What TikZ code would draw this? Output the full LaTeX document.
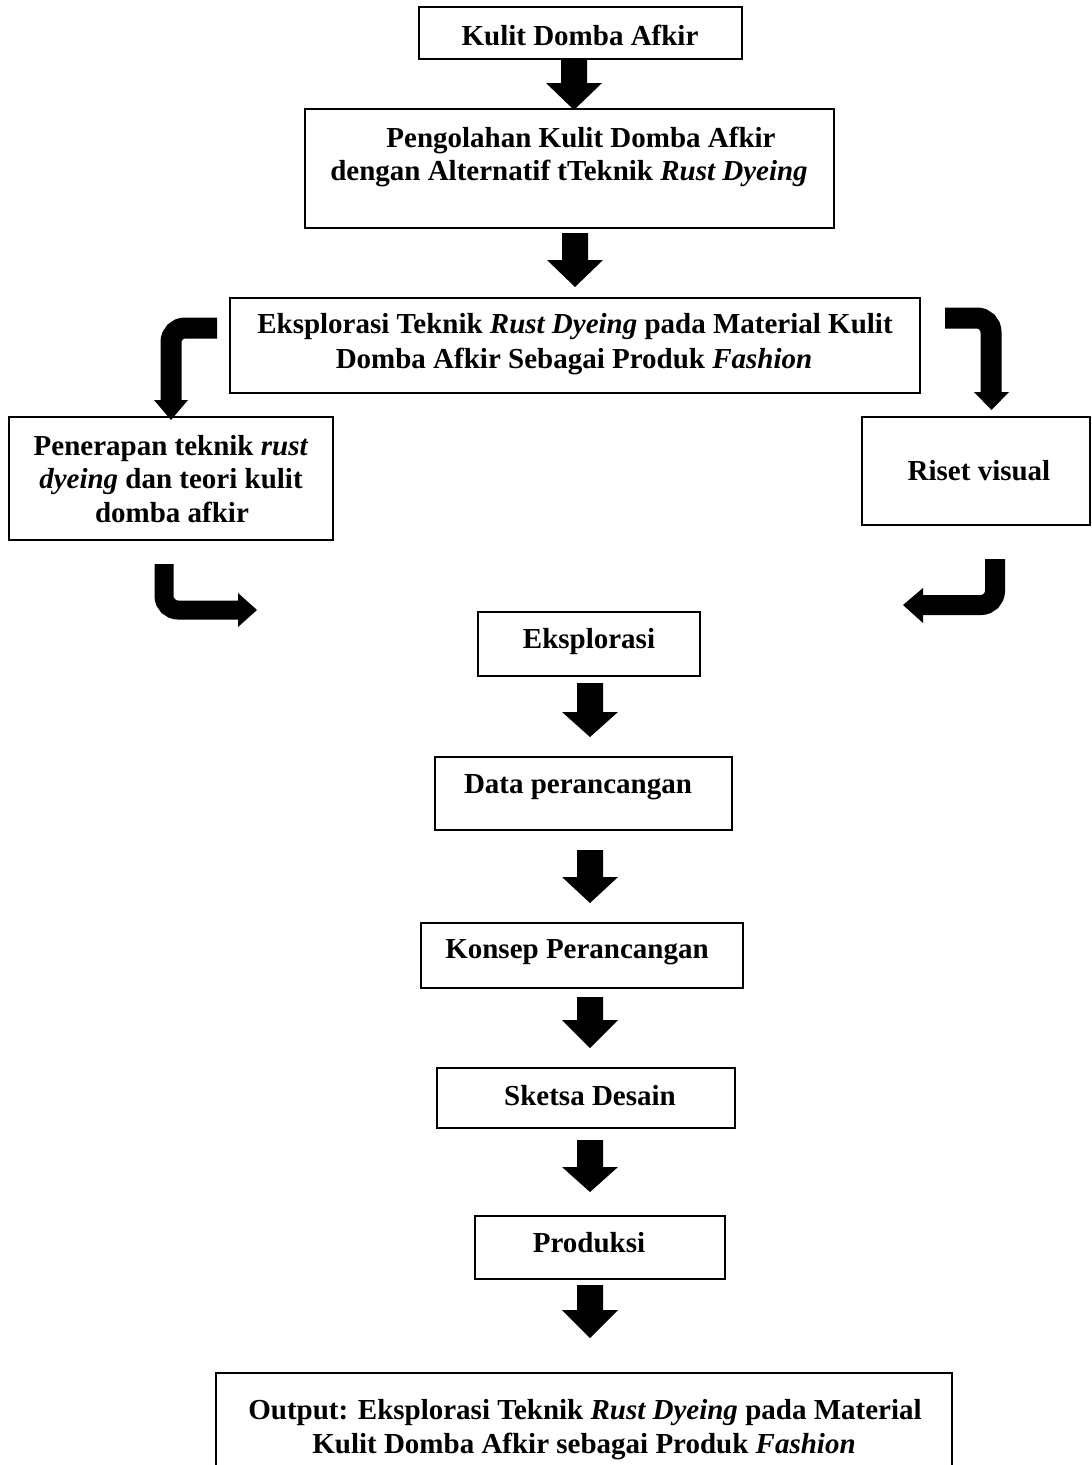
\documentclass[tikz,border=0pt]{standalone}
\usepackage{fontspec}
\setmainfont{Liberation Serif}
\usetikzlibrary{fit}
\tikzset{
  box/.style={draw, line width=2pt, inner sep=0pt},
  txt/.style={font=\fontsize{29}{33}\selectfont\bfseries, inner sep=0pt, anchor=base},
  bent/.style={draw=black, line width=21pt, rounded corners=14pt, line cap=butt}
}
\newcommand\blockdown[4]{% x, top, head base, tip
  \fill[black] (#1-13,#2) -- (#1+13,#2) -- (#1+13,#3) -- (#1+28,#3) -- (#1,#4) -- (#1-28,#3) -- (#1-13,#3) -- cycle;}
\begin{document}
\begin{tikzpicture}[x=1pt,y=-1pt]
\useasboundingbox (0,0) rectangle (1092,1465);
\clip (0,0) rectangle (1092,1465);
\fill[white] (0,0) rectangle (1092,1465);

% boxes
\node[box, fit={(419,7) (742,59)}] (b1) {};
\node[box, fit={(305,109) (834,228)}] (b2) {};
\node[box, fit={(230,298) (920,393)}] (b3) {};
\node[box, fit={(9,417) (333,540)}] (b4) {};
\node[box, fit={(862,417) (1090,525)}] (b5) {};
\node[box, fit={(478,612) (700,676)}] (b6) {};
\node[box, fit={(435,757) (732,830)}] (b7) {};
\node[box, fit={(421,923) (743,988)}] (b8) {};
\node[box, fit={(437,1068) (735,1128)}] (b9) {};
\node[box, fit={(475,1216) (725,1279)}] (b10) {};
\node[box, fit={(216,1373) (952,1500)}] (b11) {};

% texts
\node[txt] (t1) at (580,45) {Kulit Domba Afkir};
\node[txt] (t2a) at (581,147) {Pengolahan Kulit Domba Afkir};
\node[txt] (t2b) at (569,180) {dengan Alternatif tTeknik \textit{Rust Dyeing}};
\node[txt] (t3a) at (575,333) {Eksplorasi Teknik \textit{Rust Dyeing} pada Material Kulit};
\node[txt] (t3b) at (574,368) {Domba Afkir Sebagai Produk \textit{Fashion}};
\node[txt] (t4a) at (171,455) {Penerapan teknik \textit{rust}};
\node[txt] (t4b) at (171,488) {\textit{dyeing} dan teori kulit};
\node[txt] (t4c) at (172,522) {domba afkir};
\node[txt] (t5) at (979,480) {Riset visual};
\node[txt] (t6) at (589,648) {Eksplorasi};
\node[txt] (t7) at (578,793) {Data perancangan};
\node[txt] (t8) at (577,958) {Konsep Perancangan};
\node[txt] (t9) at (590,1105) {Sketsa Desain};
\node[txt] (t10) at (589,1252) {Produksi};
\node[txt] (t11a) at (585,1419) {Output: Eksplorasi Teknik \textit{Rust Dyeing} pada Material};
\node[txt] (t11b) at (584,1453) {Kulit Domba Afkir sebagai Produk \textit{Fashion}};

% straight block arrows
\blockdown{574}{58}{83}{110}
\blockdown{575}{233}{260}{287}
\blockdown{590}{683}{712}{737}
\blockdown{590}{850}{877}{903}
\blockdown{590}{997}{1020}{1048}
\blockdown{590}{1140}{1167}{1192}
\blockdown{590}{1285}{1310}{1338}

% bent arrows
\draw[bent] (217,328) -- (171,328) -- (171,401);
\fill[black] (154,400) -- (188,400) -- (171,420) -- cycle;

\draw[bent] (945,318) -- (991,318) -- (991,393);
\fill[black] (974,392) -- (1009,392) -- (991.5,410) -- cycle;

\draw[bent, line width=19pt] (164,564) -- (164,610) -- (239,610);
\fill[black] (238,593) -- (238,627) -- (257,610) -- cycle;

\draw[bent, line width=20pt] (995,559) -- (995,605) -- (922,605);
\fill[black] (923,588) -- (923,623) -- (903,605) -- cycle;
\end{tikzpicture}
\end{document}
